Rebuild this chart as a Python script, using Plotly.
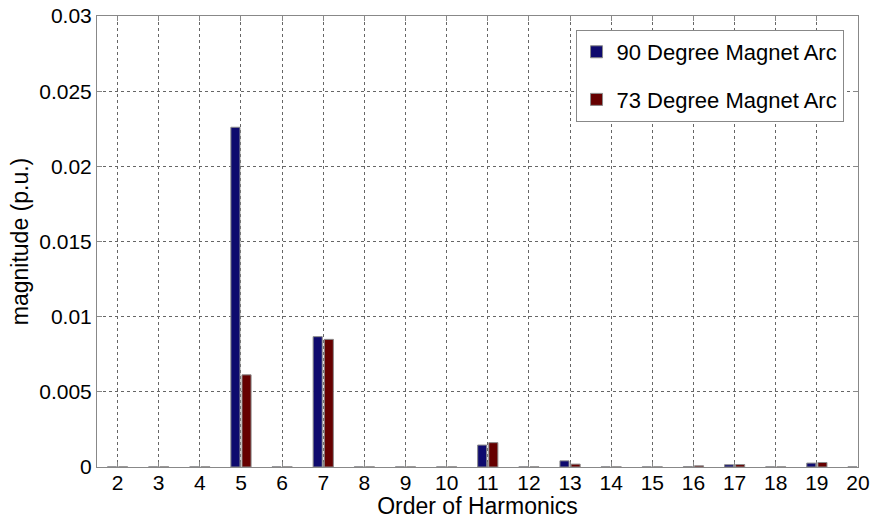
import plotly.graph_objects as go

harmonics = list(range(2, 21))
arc90 = [0.00001, 0.00001, 0.00001, 0.0226, 0.00001, 0.00867, 0.00001, 0.00001, 0.00001,
         0.00146, 0.00001, 0.00041, 0.00001, 0.00001, 0.00002, 0.00015, 0.00001, 0.00026, 0.00001]
arc73 = [0.00001, 0.00001, 0.00001, 0.00613, 0.00001, 0.00849, 0.00001, 0.00001, 0.00001,
         0.00162, 0.00001, 0.00019, 0.00001, 0.00001, 0.00008, 0.00016, 0.00001, 0.00030, 0.00001]
series_names = ["90 Degree Magnet Arc", "73 Degree Magnet Arc"]
y_ticks = [0, 0.005, 0.01, 0.015, 0.02, 0.025, 0.03]
y_tick_labels = ["0", "0.005", "0.01", "0.015", "0.02", "0.025", "0.03"]

font = "Liberation Sans, Arial, sans-serif"

fig = go.Figure()
fig.add_trace(go.Bar(x=harmonics, y=arc90, name=series_names[0],
                     marker=dict(color="#0e0a6e", line=dict(color="#8a8a8a", width=1)),
                     legendgroup="a"))
fig.add_trace(go.Bar(x=harmonics, y=arc73, name=series_names[1],
                     marker=dict(color="#660000", line=dict(color="#8a8a8a", width=1)),
                     legendgroup="b"))

fig.update_layout(
    width=872, height=519,
    margin=dict(l=97, r=14, t=16, b=52, autoexpand=False),
    paper_bgcolor="white", plot_bgcolor="white",
    barmode="group", bargap=0.46, bargroupgap=0.18,
    font=dict(family=font, size=21, color="black"),
    showlegend=True,
    legend=dict(x=0.981, y=0.969, xanchor="right", yanchor="top",
                bordercolor="#888888", borderwidth=1, bgcolor="white",
                font=dict(family=font, size=22), traceorder="grouped",
                tracegroupgap=16, itemwidth=30),
    xaxis=dict(
        range=[1.5, 20], tickmode="array", tickvals=harmonics,
        ticktext=[str(h) for h in harmonics],
        showgrid=True, gridcolor="#666666", griddash="dot", gridwidth=1,
        showline=True, linecolor="#888888", linewidth=1, mirror="ticks",
        ticks="inside", ticklen=5, tickcolor="#888888",
        zeroline=False, automargin=False, ticklabelstandoff=-3,
        title=dict(text="Order of Harmonics", standoff=0, font=dict(size=23)),
        tickfont=dict(size=21),
    ),
    yaxis=dict(
        range=[0, 0.03], tickmode="array", tickvals=y_ticks, ticktext=y_tick_labels,
        showgrid=True, gridcolor="#666666", griddash="dot", gridwidth=1,
        showline=True, linecolor="#888888", linewidth=1, mirror="ticks",
        ticks="inside", ticklen=5, tickcolor="#888888",
        zeroline=False, automargin=False,
        title=dict(text="magnitude (p.u.)", standoff=4, font=dict(size=23)),
        tickfont=dict(size=21),
    ),
)

fig.write_html("out.html")
